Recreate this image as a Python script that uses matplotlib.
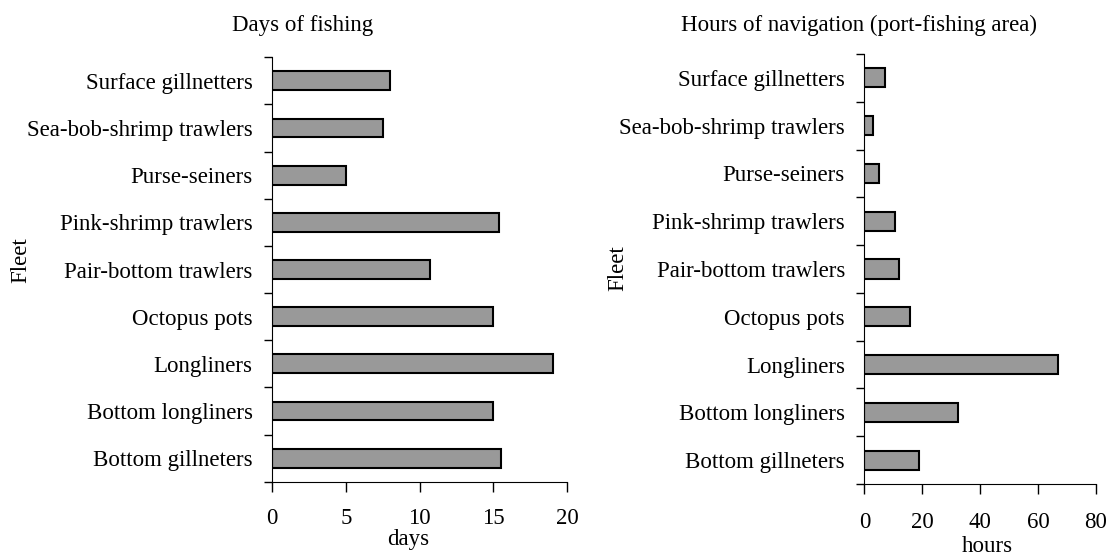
import matplotlib
matplotlib.use("Agg")
import matplotlib.pyplot as plt
import numpy as np

# fleets, top to bottom as in the figure
fleets = ['Surface gillnetters', 'Sea-bob-shrimp trawlers', 'Purse-seiners',
          'Pink-shrimp trawlers', 'Pair-bottom trawlers', 'Octopus pots',
          'Longliners', 'Bottom longliners', 'Bottom gillneters']
days = [8, 7.5, 5, 15.4, 10.7, 15, 19, 15, 15.5]
hours = [7, 3, 5, 10.7, 12, 15.7, 67, 32.5, 18.8]

plt.rcParams['font.family'] = ['Liberation Serif', 'DejaVu Serif']
fs = 16.5

fig = plt.figure(figsize=(11.11, 5.58), dpi=100)
ax1 = fig.add_axes([0.2448, 0.1367, 0.2658, 0.7606])
ax2 = fig.add_axes([0.7780, 0.1326, 0.2085, 0.7706])

def draw(ax, vals, xmax, step, xpad):
    n = len(fleets)
    pos = np.arange(n)[::-1]
    ax.barh(pos, vals, height=0.4, color='#999999', edgecolor='black', linewidth=1.5)
    ax.set_ylim(-0.5, n - 0.5)
    ax.set_xlim(0, xmax)
    ax.set_yticks(pos)
    ax.set_yticklabels(fleets, fontsize=fs)
    ax.set_yticks(np.arange(n + 1) - 0.5, minor=True)
    ax.tick_params(axis='y', which='major', length=0, pad=14)
    ax.tick_params(axis='y', which='minor', length=6, width=1)
    ax.set_xticks(np.arange(0, xmax + 1, step))
    ax.tick_params(axis='x', labelsize=fs, length=7, width=1, pad=xpad)
    for s in ['top', 'right']:
        ax.spines[s].set_visible(False)

draw(ax1, days, 20, 5, 12)
draw(ax2, hours, 80, 20, 13)

fig.text(0.272, 0.955, 'Days of fishing', fontsize=fs, ha='center', va='center')
fig.text(0.773, 0.955, 'Hours of navigation (port-fishing area)', fontsize=fs, ha='center', va='center')
fig.text(0.019, 0.533, 'Fleet', fontsize=fs, ha='center', va='center', rotation=90)
fig.text(0.556, 0.520, 'Fleet', fontsize=fs, ha='center', va='center', rotation=90)
fig.text(0.367, 0.033, 'days', fontsize=fs, ha='center', va='center')
fig.text(0.889, 0.020, 'hours', fontsize=fs, ha='center', va='center')

fig.savefig('out.png', dpi=100)
